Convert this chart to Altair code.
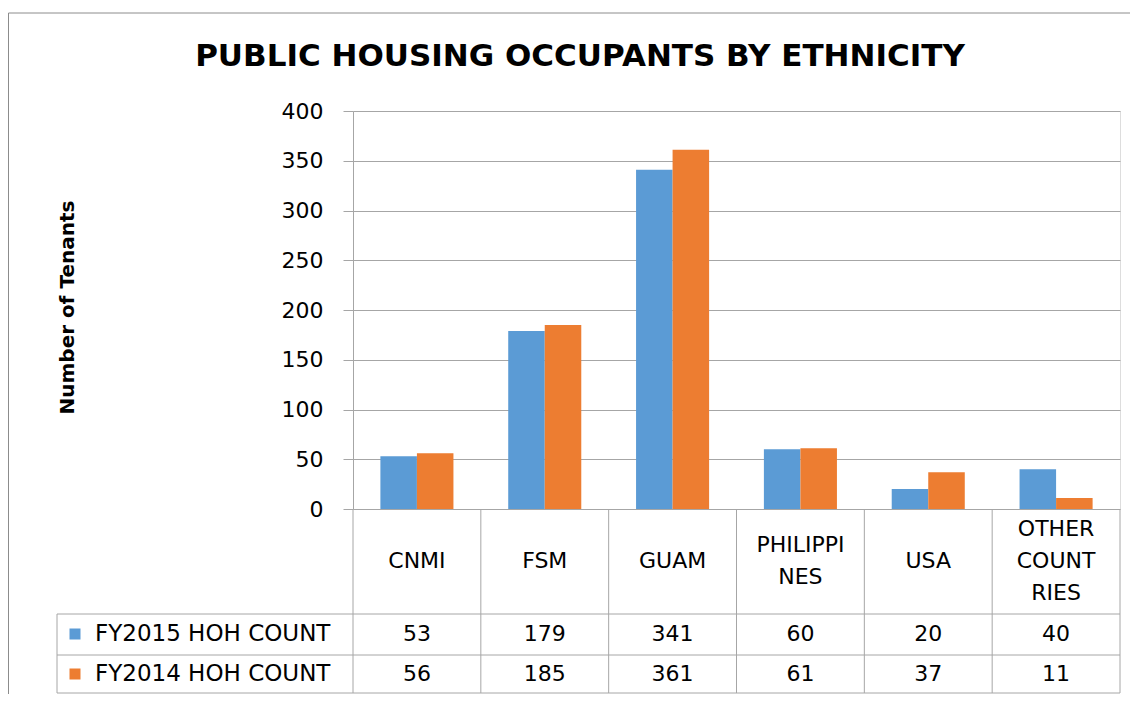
import altair as alt
import pandas as pd

# ---- data ----
categories = ["CNMI", "FSM", "GUAM", "PHILIPPINES", "USA", "OTHER COUNTRIES"]
table_labels = ["CNMI", "FSM", "GUAM", "PHILIPPI\nNES", "USA", "OTHER\nCOUNT\nRIES"]
series = ["FY2015 HOH COUNT", "FY2014 HOH COUNT"]
fy2015 = [53, 179, 341, 60, 20, 40]
fy2014 = [56, 185, 361, 61, 37, 11]
colors = ["#5B9BD5", "#ED7D31"]
y_ticks = [0, 50, 100, 150, 200, 250, 300, 350, 400]
chart_title = "PUBLIC HOUSING OCCUPANTS BY ETHNICITY"
y_title = "Number of Tenants"

rows = []
for s, vals in zip(series, [fy2015, fy2014]):
    for c, v in zip(categories, vals):
        rows.append({"category": c, "series": s, "value": v})
df = pd.DataFrame(rows)
cat_df = pd.DataFrame({"category": categories, "label": table_labels})
cat_df["nlines"] = cat_df["label"].str.count("\n") + 1

# ---- layout (pixels, relative to plot origin) ----
W, H = 767, 398
FONT = "DejaVu Sans"
GRID = "#A6A6A6"
row_y = [523, 563]
table_lines_y = [503, 544, 582]
table_left = -296
cat_label_y = 450
LINE_H = 32

x_enc = alt.X("category:N", sort=categories,
              scale=alt.Scale(paddingInner=0, paddingOuter=0), axis=None)

bars = alt.Chart(df).mark_bar().encode(
    x=x_enc,
    xOffset=alt.XOffset("series:N", sort=series,
                        scale=alt.Scale(paddingInner=0, paddingOuter=0.75)),
    y=alt.Y("value:Q", scale=alt.Scale(domain=[0, 400]),
            axis=alt.Axis(values=y_ticks, grid=True, gridColor=GRID, gridWidth=1,
                          tickSize=10, tickColor=GRID, domainColor=GRID,
                          labelFont=FONT, labelFontSize=22, labelColor="#000000",
                          labelPadding=20,
                          title=y_title, titleFont=FONT, titleFontSize=20,
                          titleFontWeight="bold", titleColor="#000000",
                          titleX=-286, titleY=196, titleAlign="center",
                          titleBaseline="middle", titleAngle=-90)),
    color=alt.Color("series:N", sort=series,
                    scale=alt.Scale(domain=series, range=colors), legend=None),
)

layers = []

# outer border
dummy = alt.Data(values=[{}])
layers.append(alt.Chart(dummy).mark_rect(fillOpacity=0, stroke="#8C8C8C", strokeWidth=1).encode(
    x=alt.value(-344.5), x2=alt.value(W + 30), y=alt.value(-98), y2=alt.value(H + 260)))

layers.append(bars)

# table borders
def rule(x1, x2, y1, y2):
    return alt.Chart(dummy).mark_rule(color=GRID, strokeWidth=1).encode(
        x=alt.value(x1), x2=alt.value(x2), y=alt.value(y1), y2=alt.value(y2))

for yy in table_lines_y:
    layers.append(rule(table_left, W, yy, yy))
layers.append(rule(table_left, table_left, table_lines_y[0], table_lines_y[-1]))
for i in range(7):
    xx = i * W / 6
    layers.append(rule(xx, xx, H, table_lines_y[-1]))

# category labels row (multi-line labels centred vertically in the cell)
for n in sorted(cat_df["nlines"].unique()):
    layers.append(alt.Chart(cat_df).transform_filter(alt.datum.nlines == int(n)).mark_text(
        font=FONT, fontSize=22, lineBreak="\n", lineHeight=LINE_H, color="#000000",
        baseline="middle", align="center").encode(
        x=alt.X("category:N", sort=categories),
        y=alt.value(cat_label_y - (int(n) - 1) * LINE_H / 2), text="label:N"))

# value rows, legend keys, row labels
for i, s in enumerate(series):
    layers.append(alt.Chart(df).transform_filter(alt.datum.series == s).mark_text(
        font=FONT, fontSize=22, color="#000000", baseline="middle", align="center").encode(
        x=alt.X("category:N", sort=categories), y=alt.value(row_y[i]), text="value:Q"))
    sdf = pd.DataFrame({"series": [s]})
    layers.append(alt.Chart(sdf).mark_square(size=121, opacity=1, color=colors[i]).encode(
        x=alt.value(-278), y=alt.value(row_y[i])))
    layers.append(alt.Chart(sdf).mark_text(
        font=FONT, fontSize=23, color="#000000", align="left", baseline="middle").encode(
        x=alt.value(-258), y=alt.value(row_y[i]), text="series:N"))

# chart title
layers.append(alt.Chart(dummy).mark_text(
    font=FONT, fontSize=31, fontWeight="bold", color="#000000",
    align="center", baseline="middle").encode(
    x=alt.value(227), y=alt.value(-54), text=alt.value(chart_title)))

chart = alt.layer(*layers).properties(
    width=W, height=H,
    padding={"left": 345, "top": 103, "right": 10, "bottom": 185},
    autosize=alt.AutoSizeParams(type="none"),
).configure_view(stroke=None).configure(background="white")

chart.save("out.html", embed_options={"renderer": "svg", "actions": False})
